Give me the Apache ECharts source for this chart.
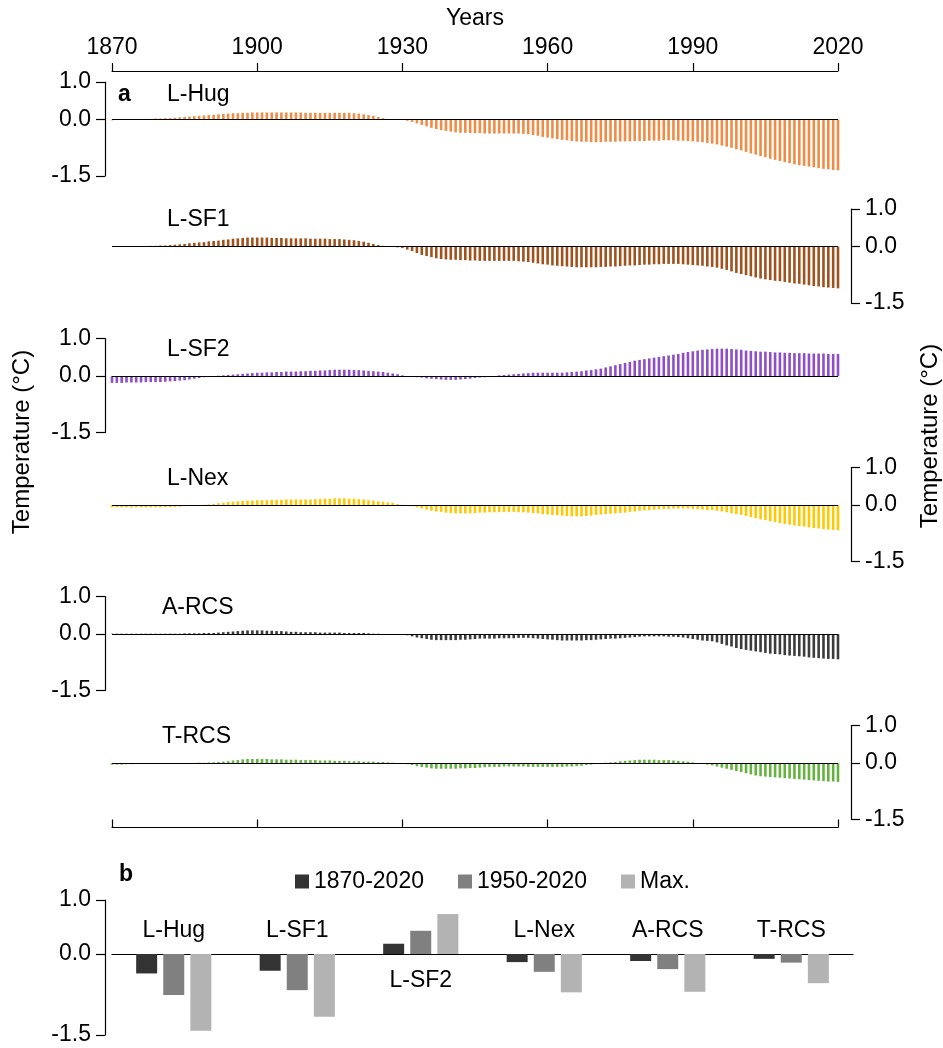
<!DOCTYPE html>
<html>
<head>
<meta charset="utf-8">
<script src="https://cdn.jsdelivr.net/npm/echarts@6/dist/echarts.min.js"></script>
<style>html,body{margin:0;padding:0;background:#fff}#c{width:943px;height:1048px}</style>
</head>
<body>
<div id="c"></div>
<script>
const firstYear = 1870, lastYear = 2020;
const xTickYears = [1870, 1900, 1930, 1960, 1990, 2020];
const yTickValues = [-1.5, 0, 1.0];
const seriesNames = ['L-Hug', 'L-SF1', 'L-SF2', 'L-Nex', 'A-RCS', 'T-RCS'];

const lHug = [
 -0.02,-0.01,0,0,0,0,0.01,0.02,0.02,0.03,
 0.03,0.04,0.04,0.05,0.06,0.07,0.08,0.09,0.10,0.11,
 0.12,0.13,0.14,0.15,0.16,0.17,0.17,0.18,0.18,0.19,
 0.19,0.19,0.19,0.19,0.19,0.19,0.19,0.19,0.19,0.19,
 0.18,0.18,0.18,0.18,0.18,0.18,0.18,0.18,0.18,0.18,
 0.17,0.16,0.14,0.12,0.10,0.07,0.04,0.02,0.01,0,
 -0.01,-0.03,-0.06,-0.10,-0.14,-0.18,-0.22,-0.25,-0.28,-0.30,
 -0.32,-0.34,-0.35,-0.35,-0.36,-0.36,-0.36,-0.37,-0.37,-0.37,
 -0.37,-0.37,-0.37,-0.37,-0.37,-0.38,-0.39,-0.41,-0.43,-0.46,
 -0.48,-0.50,-0.52,-0.54,-0.55,-0.57,-0.58,-0.59,-0.59,-0.60,
 -0.60,-0.60,-0.59,-0.59,-0.59,-0.58,-0.58,-0.58,-0.57,-0.57,
 -0.57,-0.56,-0.56,-0.56,-0.55,-0.55,-0.55,-0.56,-0.56,-0.57,
 -0.58,-0.59,-0.60,-0.62,-0.64,-0.66,-0.69,-0.72,-0.75,-0.79,
 -0.82,-0.86,-0.90,-0.93,-0.97,-1.00,-1.04,-1.07,-1.10,-1.13,
 -1.16,-1.19,-1.21,-1.23,-1.25,-1.27,-1.29,-1.31,-1.32,-1.34,
 -1.35];
const lSF1 = [
 0,0,0,0,0,0,0.01,0.01,0.02,0.02,
 0.03,0.03,0.04,0.05,0.06,0.07,0.09,0.10,0.11,0.12,
 0.14,0.15,0.16,0.18,0.19,0.21,0.22,0.23,0.24,0.24,
 0.24,0.24,0.24,0.23,0.23,0.23,0.22,0.22,0.22,0.22,
 0.22,0.21,0.21,0.21,0.21,0.20,0.20,0.20,0.19,0.18,
 0.17,0.15,0.13,0.10,0.07,0.04,0.02,0,0,-0.02,
 -0.04,-0.08,-0.12,-0.17,-0.22,-0.25,-0.28,-0.31,-0.33,-0.34,
 -0.35,-0.35,-0.36,-0.36,-0.37,-0.37,-0.38,-0.38,-0.38,-0.38,
 -0.38,-0.38,-0.38,-0.38,-0.39,-0.40,-0.41,-0.43,-0.45,-0.47,
 -0.48,-0.50,-0.51,-0.52,-0.53,-0.54,-0.55,-0.55,-0.55,-0.55,
 -0.55,-0.54,-0.54,-0.53,-0.53,-0.52,-0.51,-0.50,-0.50,-0.49,
 -0.48,-0.48,-0.47,-0.47,-0.46,-0.46,-0.46,-0.46,-0.47,-0.48,
 -0.49,-0.50,-0.51,-0.53,-0.54,-0.56,-0.59,-0.62,-0.66,-0.70,
 -0.73,-0.76,-0.79,-0.82,-0.85,-0.87,-0.89,-0.91,-0.92,-0.94,
 -0.96,-0.98,-0.99,-1.01,-1.03,-1.05,-1.06,-1.08,-1.09,-1.10,
 -1.11];
const lSF2 = [
 -0.18,-0.18,-0.18,-0.17,-0.17,-0.17,-0.17,-0.16,-0.16,-0.16,
 -0.16,-0.15,-0.14,-0.13,-0.12,-0.11,-0.09,-0.07,-0.05,-0.03,
 -0.01,0,0.01,0.02,0.03,0.04,0.05,0.06,0.07,0.08,
 0.09,0.09,0.10,0.10,0.11,0.11,0.12,0.12,0.12,0.13,
 0.13,0.14,0.14,0.15,0.15,0.16,0.17,0.17,0.17,0.17,
 0.16,0.16,0.15,0.14,0.13,0.12,0.11,0.09,0.07,0.05,
 0.02,0,-0.01,-0.03,-0.04,-0.06,-0.07,-0.08,-0.09,-0.10,
 -0.10,-0.10,-0.09,-0.08,-0.07,-0.05,-0.04,-0.03,-0.01,0,
 0.02,0.03,0.04,0.05,0.06,0.07,0.08,0.09,0.09,0.09,
 0.09,0.09,0.09,0.09,0.10,0.11,0.12,0.13,0.15,0.16,
 0.18,0.20,0.23,0.26,0.29,0.32,0.35,0.38,0.41,0.43,
 0.45,0.47,0.49,0.51,0.53,0.55,0.57,0.59,0.62,0.64,
 0.66,0.68,0.70,0.71,0.72,0.73,0.73,0.73,0.72,0.71,
 0.70,0.68,0.67,0.66,0.65,0.65,0.64,0.63,0.63,0.62,
 0.62,0.61,0.61,0.61,0.60,0.60,0.60,0.60,0.59,0.59,
 0.59];
const lNex = [
 -0.06,-0.06,-0.06,-0.06,-0.06,-0.06,-0.06,-0.06,-0.06,-0.06,
 -0.06,-0.05,-0.05,-0.05,-0.04,-0.03,-0.01,0,0,0.01,
 0.02,0.03,0.05,0.06,0.08,0.09,0.10,0.11,0.12,0.12,
 0.13,0.13,0.13,0.14,0.14,0.14,0.15,0.15,0.15,0.15,
 0.15,0.15,0.16,0.16,0.17,0.17,0.18,0.18,0.18,0.17,
 0.17,0.16,0.15,0.13,0.12,0.10,0.09,0.07,0.06,0.03,
 0.01,-0.01,-0.03,-0.06,-0.09,-0.12,-0.15,-0.17,-0.18,-0.20,
 -0.21,-0.22,-0.22,-0.22,-0.22,-0.21,-0.20,-0.20,-0.19,-0.19,
 -0.19,-0.18,-0.18,-0.18,-0.19,-0.19,-0.20,-0.21,-0.22,-0.24,
 -0.25,-0.26,-0.27,-0.28,-0.29,-0.30,-0.30,-0.30,-0.29,-0.28,
 -0.26,-0.25,-0.24,-0.23,-0.22,-0.21,-0.20,-0.18,-0.17,-0.15,
 -0.14,-0.13,-0.12,-0.11,-0.10,-0.10,-0.09,-0.09,-0.09,-0.09,
 -0.10,-0.11,-0.12,-0.13,-0.13,-0.15,-0.17,-0.19,-0.22,-0.24,
 -0.26,-0.29,-0.32,-0.35,-0.38,-0.40,-0.43,-0.45,-0.48,-0.50,
 -0.52,-0.54,-0.56,-0.57,-0.59,-0.61,-0.62,-0.64,-0.65,-0.66,
 -0.67];
const aRCS = [
 0.01,0.01,0.01,0.01,0.01,0.01,0.01,0.01,0.01,0.01,
 0.01,0.01,0.01,0.01,0.01,0.02,0.02,0.02,0.02,0.03,
 0.03,0.03,0.04,0.05,0.06,0.07,0.08,0.09,0.10,0.10,
 0.10,0.10,0.09,0.09,0.08,0.08,0.07,0.06,0.06,0.05,
 0.05,0.05,0.05,0.04,0.04,0.04,0.04,0.04,0.03,0.03,
 0.03,0.03,0.03,0.02,0.01,0.01,0,0,0,0,
 -0.01,-0.03,-0.06,-0.09,-0.11,-0.13,-0.15,-0.16,-0.16,-0.16,
 -0.16,-0.16,-0.15,-0.15,-0.14,-0.13,-0.12,-0.12,-0.12,-0.12,
 -0.11,-0.11,-0.11,-0.11,-0.10,-0.10,-0.10,-0.11,-0.12,-0.13,
 -0.14,-0.15,-0.16,-0.17,-0.17,-0.17,-0.17,-0.17,-0.16,-0.16,
 -0.15,-0.14,-0.13,-0.12,-0.12,-0.11,-0.10,-0.09,-0.08,-0.07,
 -0.06,-0.06,-0.06,-0.06,-0.06,-0.07,-0.07,-0.08,-0.09,-0.11,
 -0.13,-0.15,-0.17,-0.18,-0.19,-0.22,-0.26,-0.30,-0.33,-0.37,
 -0.40,-0.42,-0.44,-0.46,-0.48,-0.50,-0.52,-0.53,-0.54,-0.56,
 -0.57,-0.58,-0.59,-0.60,-0.62,-0.63,-0.64,-0.65,-0.66,-0.66,
 -0.67];
const tRCS = [
 -0.04,-0.04,-0.04,-0.03,-0.03,-0.02,-0.02,-0.01,0,0,
 0,0,0,0,0,0,0,0,0.01,0.01,
 0.02,0.02,0.03,0.04,0.05,0.07,0.08,0.10,0.11,0.11,
 0.11,0.11,0.11,0.10,0.10,0.10,0.09,0.09,0.09,0.08,
 0.08,0.08,0.08,0.07,0.07,0.07,0.06,0.06,0.06,0.05,
 0.05,0.05,0.04,0.04,0.04,0.03,0.03,0.02,0.01,0,
 -0.01,-0.03,-0.05,-0.08,-0.10,-0.12,-0.14,-0.15,-0.15,-0.15,
 -0.15,-0.15,-0.14,-0.14,-0.13,-0.13,-0.12,-0.11,-0.10,-0.10,
 -0.10,-0.09,-0.09,-0.09,-0.09,-0.09,-0.10,-0.10,-0.10,-0.10,
 -0.10,-0.10,-0.10,-0.10,-0.09,-0.09,-0.08,-0.07,-0.05,-0.04,
 -0.02,-0.01,0.01,0.02,0.03,0.05,0.06,0.07,0.08,0.09,
 0.09,0.09,0.09,0.08,0.08,0.08,0.07,0.06,0.05,0.04,
 0.02,0,-0.02,-0.04,-0.06,-0.09,-0.12,-0.15,-0.18,-0.21,
 -0.24,-0.27,-0.30,-0.33,-0.35,-0.36,-0.37,-0.38,-0.39,-0.40,
 -0.41,-0.42,-0.43,-0.44,-0.45,-0.46,-0.47,-0.48,-0.49,-0.49,
 -0.50];

// Panel b
const periodNames = ['1870-2020', '1950-2020', 'Max.'];
const trend1870 = [-0.36, -0.31, 0.19, -0.15, -0.13, -0.09];
const trend1950 = [-0.76, -0.67, 0.43, -0.33, -0.28, -0.16];
const trendMax  = [-1.42, -1.16, 0.74, -0.71, -0.70, -0.54];

const panelColors = ['#F08C46', '#A0521E', '#8E4EC6', '#FFC800', '#3C3C3C', '#63B33E'];
const barColors = ['#333333', '#808080', '#B3B3B3'];
const FONT = 'Liberation Sans, Arial, sans-serif';
const FS = 23;

const panelValues = [lHug, lSF1, lSF2, lNex, aRCS, tRCS];
const years = [];
for (let y = firstYear; y <= lastYear; y++) years.push(y);

const panelTops = [82, 209, 338.5, 467.5, 596.5, 725.5];
const panelH = 94;
const gLeft = 112, gWidth = 726;

const grids = [], xAxes = [], yAxes = [], series = [];
const fmt = v => v.toFixed(1);

panelValues.forEach((vals, i) => {
  grids.push({left: gLeft, width: gWidth, top: panelTops[i], height: panelH});
  const xa = {type: 'value', gridIndex: i, min: firstYear, max: lastYear, interval: 30,
    show: false, splitLine: {show: false}};
  if (i === 0) {
    Object.assign(xa, {show: true, position: 'top', offset: 11,
      axisLine: {show: true, onZero: false, lineStyle: {color: '#000', width: 1.2}},
      axisTick: {show: true, inside: false, length: 8, lineStyle: {color: '#000', width: 1.2}},
      axisLabel: {show: true, fontSize: FS, color: '#000', fontFamily: FONT, margin: 12,
        formatter: v => String(v)},
      name: 'Years', nameLocation: 'middle', nameGap: 41,
      nameTextStyle: {fontSize: FS, color: '#000', fontFamily: FONT}});
  }
  if (i === 5) {
    Object.assign(xa, {show: true, position: 'bottom', offset: 8,
      axisLine: {show: true, onZero: false, lineStyle: {color: '#000', width: 1.2}},
      axisTick: {show: true, inside: true, length: 8, lineStyle: {color: '#000', width: 1.2}},
      axisLabel: {show: false}});
  }
  xAxes.push(xa);
  const left = i % 2 === 0;
  yAxes.push({type: 'value', gridIndex: i, min: -1.5, max: 1.0,
    position: left ? 'left' : 'right', offset: left ? 7 : 13,
    splitLine: {show: false},
    axisLine: {show: true, onZero: false, lineStyle: {color: '#000', width: 1.2}},
    axisTick: {show: true, length: 9, customValues: yTickValues, lineStyle: {color: '#000', width: 1.2}},
    axisLabel: {fontSize: FS, color: '#000', fontFamily: FONT, margin: 14,
      customValues: yTickValues, formatter: fmt}});
  series.push({type: 'bar', name: seriesNames[i], xAxisIndex: i, yAxisIndex: i,
    data: years.map((y, k) => [y, vals[k]]), barWidth: 2.6,
    itemStyle: {color: panelColors[i]}, silent: true,
    markLine: {silent: true, symbol: 'none', label: {show: false},
      lineStyle: {color: '#000', type: 'solid', width: 1.2}, data: [{yAxis: 0}]}});
});

// panel b
grids.push({left: gLeft, width: 741, top: 900, height: 135});
xAxes.push({type: 'category', gridIndex: 6, data: seriesNames,
  axisLine: {show: true, onZero: true, lineStyle: {color: '#000', width: 1.2}},
  axisTick: {show: false}, axisLabel: {show: false}});
yAxes.push({type: 'value', gridIndex: 6, min: -1.5, max: 1.0, position: 'left', offset: 7,
  splitLine: {show: false},
  axisLine: {show: true, onZero: false, lineStyle: {color: '#000', width: 1.2}},
  axisTick: {show: true, length: 9, customValues: yTickValues, lineStyle: {color: '#000', width: 1.2}},
  axisLabel: {fontSize: FS, color: '#000', fontFamily: FONT, margin: 14,
    customValues: yTickValues, formatter: fmt}});
[trend1870, trend1950, trendMax].forEach((arr, j) => {
  series.push({type: 'bar', name: periodNames[j], xAxisIndex: 6, yAxisIndex: 6,
    data: arr, barWidth: 21, barGap: '29%', itemStyle: {color: barColors[j]}});
});
// category labels placed opposite to bars
const labelY = trendMax.map(v => v > 0 ? -0.49 : 0.44);
series.push({type: 'scatter', xAxisIndex: 6, yAxisIndex: 6, symbolSize: 1, silent: true,
  itemStyle: {color: 'rgba(0,0,0,0)', opacity: 1},
  data: seriesNames.map((n, k) => [n, labelY[k]]),
  label: {show: true, position: 'inside', fontSize: FS, color: '#000', fontFamily: FONT,
    formatter: p => p.data[0]}});

const panelLabelPos = [[167, 95], [167, 219.5], [167, 350], [167, 478.5], [162, 608], [162, 736.5]];
const graphics = seriesNames.map((n, i) => ({type: 'text', x: panelLabelPos[i][0], y: panelLabelPos[i][1],
  style: {text: n, fontSize: FS, fontFamily: FONT, fill: '#000', align: 'left', verticalAlign: 'middle'}}));
graphics.push({type: 'text', x: 118, y: 95, style: {text: 'a', fontSize: FS, fontWeight: 'bold', fontFamily: FONT, fill: '#000', verticalAlign: 'middle'}});
graphics.push({type: 'text', x: 119, y: 875, style: {text: 'b', fontSize: FS, fontWeight: 'bold', fontFamily: FONT, fill: '#000', verticalAlign: 'middle'}});
graphics.push({type: 'text', x: 22, y: 442, rotation: Math.PI / 2, style: {text: 'Temperature (°C)', fontSize: 24, fontFamily: FONT, fill: '#000', align: 'center', verticalAlign: 'middle'}});
graphics.push({type: 'text', x: 930, y: 436, rotation: Math.PI / 2, style: {text: 'Temperature (°C)', fontSize: 24, fontFamily: FONT, fill: '#000', align: 'center', verticalAlign: 'middle'}});

const chart = echarts.init(document.getElementById('c'), null, {renderer: 'canvas'});
chart.setOption({
  animation: false,
  backgroundColor: '#fff',
  textStyle: {fontFamily: FONT},
  legend: {data: periodNames, left: 290, top: 865, icon: 'rect', itemWidth: 14, itemHeight: 14,
    itemGap: 34, textStyle: {fontSize: FS, color: '#000', fontFamily: FONT}},
  grid: grids, xAxis: xAxes, yAxis: yAxes, series: series, graphic: graphics
});
</script>
</body>
</html>
